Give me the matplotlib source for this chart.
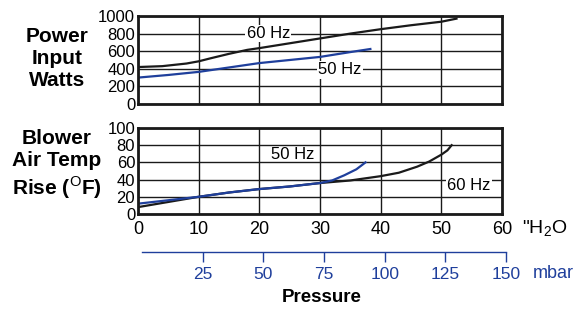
import matplotlib.pyplot as plt
from matplotlib import font_manager

names = {f.name for f in font_manager.fontManager.ttflist}
narrow = 'Liberation Sans Narrow' if 'Liberation Sans Narrow' in names else 'Liberation Sans'
plt.rcParams['font.family'] = [narrow, 'DejaVu Sans']
plt.rcParams['mathtext.fontset'] = 'custom'
plt.rcParams['mathtext.rm'] = narrow

# power input (W) vs pressure ("H2O)
p60_x = [0, 4, 8, 10, 12, 15, 18, 20, 25, 30, 35, 40, 45, 50, 52.5]
p60_y = [420, 430, 460, 485, 520, 570, 615, 635, 690, 745, 800, 850, 895, 935, 970]
p50_x = [0, 5, 10, 15, 20, 25, 30, 35, 38.3]
p50_y = [300, 330, 365, 415, 465, 500, 535, 590, 625]

# air temp rise (F) vs pressure
t60_x = [0, 5, 10, 15, 20, 25, 30, 35, 40, 43, 46, 48, 50, 51, 51.7]
t60_y = [8, 14, 20, 25, 29, 32, 36, 39, 44, 48, 55, 61, 69, 74, 80]
t50_x = [0, 5, 10, 15, 20, 25, 30, 32, 34, 36, 37.5]
t50_y = [12, 16, 20, 25, 29, 32, 36, 39, 45, 52, 60]

xticks = [0, 10, 20, 30, 40, 50, 60]
mbar_ticks = [25, 50, 75, 100, 125, 150]

black = '#1a1a1a'
blue = '#1f3f9c'

fig = plt.figure(figsize=(5.81, 3.12), dpi=100)
ax1 = fig.add_axes([138/581, 1-104/312, 364/581, 88/312])
ax2 = fig.add_axes([138/581, 1-214/312, 364/581, 86/312])

for ax, ymax in ((ax1, 1000), (ax2, 100)):
    ax.set_xlim(0, 60)
    ax.set_ylim(0, ymax)
    ax.set_xticks(xticks)
    ax.set_yticks(range(0, ymax + 1, ymax // 5))
    ax.grid(True, color=black, lw=1)
    ax.set_axisbelow(True)
    for s in ax.spines.values():
        s.set_linewidth(2)
        s.set_color(black)
    ax.tick_params(length=0, labelsize=12, pad=2)

ax1.set_xticklabels([])
ax2.tick_params(axis='x', labelsize=13, pad=5)

ax1.plot(p60_x, p60_y, color=black, lw=1.6)
ax1.plot(p50_x, p50_y, color=blue, lw=1.6)
ax2.plot(t60_x, t60_y, color=black, lw=1.6)
ax2.plot(t50_x, t50_y, color=blue, lw=1.6)

box = dict(facecolor='white', edgecolor='none', pad=1)
ax1.text(21.5, 800, '60 Hz', fontsize=12, ha='center', va='center', bbox=box)
ax1.text(33.3, 390, '50 Hz', fontsize=12, ha='center', va='center', bbox=box)
ax2.text(25.5, 69, '50 Hz', fontsize=12, ha='center', va='center')
ax2.text(54.5, 33, '60 Hz', fontsize=12, ha='center', va='center', bbox=box)

bold = dict(fontsize=15, fontweight='bold', ha='center', va='center',
            family=['Liberation Sans', 'DejaVu Sans'], linespacing=1.2)
fig.text(57/581, 1-58/312, 'Power\nInput\nWatts', **bold)
fig.text(57/581, 1-165/312, 'Blower\nAir Temp\nRise ($^{\\rm O}$F)', **bold)
bold['fontsize'] = 13.5
fig.text(322/581, 1-298/312, 'Pressure', **bold)

fig.text(522/581, 1-229/312, '"H$_2$O', fontsize=14, ha='left', va='center')

# mbar scale
ax3 = fig.add_axes([142/581, 1-252/312, 364/581, 0.001])
ax3.set_xlim(0, 150)
ax3.set_ylim(0, 1)
ax3.patch.set_visible(False)
for k in ('left', 'right', 'bottom'):
    ax3.spines[k].set_visible(False)
ax3.spines['top'].set_color(blue)
ax3.spines['top'].set_linewidth(1)
ax3.set_yticks([])
ax3.set_xticks(mbar_ticks)
ax3.tick_params(axis='x', direction='out', length=7, width=1, color=blue,
                labelcolor=blue, labelsize=12.5, pad=4)
fig.text(533/581, 1-273/312, 'mbar', fontsize=13, color=blue, ha='left', va='center')

fig.savefig('out.png', dpi=100)
